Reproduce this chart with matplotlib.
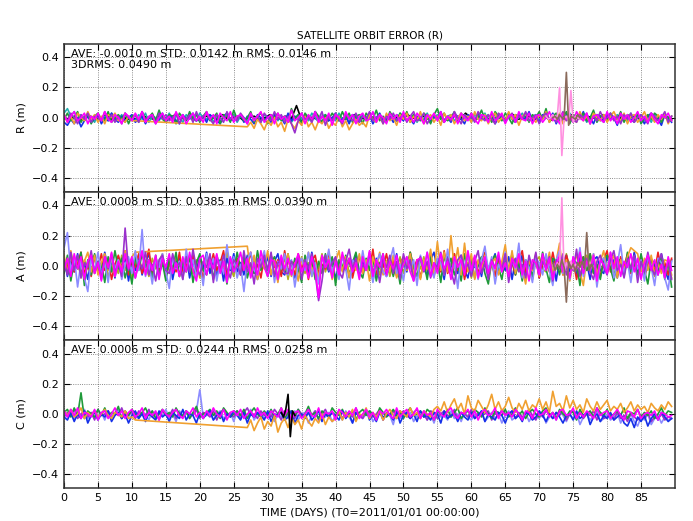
import numpy as np
import matplotlib
matplotlib.use("Agg")
import matplotlib.pyplot as plt

plt.rcParams.update({"font.size": 8})

# orbit errors, in cm, one value about every half day over 0-89.5 days
r_black = "0 -1 1 -2 0 1 -1 0 2 -1 0 1 -1 0 -2 1 0 -1 1 0 -1 2 0 -1 1 -2 0 1 0 -1 2 -1 0 1 -2 0 1 -1 0 2 -1 0 1 -1 8 -2 1 0 -1 1 -2 0 1 -1 0 2 -1 0 1 -1 0 -2 1 0 -1 2 0 -1 1 -1 0 1 -2 0 1 -1 3 0 -1 1 0 -2 1 -1 0 2 -1 0 1 -1 0 1 -2 0 1 -1 2 0 -1 1 0 -1 2 -1 0 1 -2 0 1 -1 0 2 -1 0 1 -1"
r_cyan = ("3 6 1 4 -1 2 -2 3 0 -3 2 -1 1 -2 3 0 -1 2 -3 1 0 -2 2 -1 3 -3 1 0 -2 2 -1 3 -2 1 0 -3 2 -1 1 -2 "
          "3 0 -1 2 -3 1 -2 0 3 -1 2 -3 1 0 -2 2 -1 1 -3 2 0 -1 3 -2 1 -1 2 -3 0 2 -1 1 -2 3 0 -3 1 2 -1 0 "
          "-2 3 -1 1 -3 2 0 -1 2 -2 1 3 -1 0 -3 2 -1 1 -2 3 1 -2 0 2 -3 1 -1 3 -2 0 2 -1 -3 1 2 -2 0 3 -1 1 "
          "-3 2 0 -1 3 -2 1 -1 2 0 -3 1 2 -2 0 3 -1 -2 1 2 -1 0 3 -2 1 -3 2 0 -1 3 -2 1 -1 2 -3 0 1 2 -2 -1 "
          "3 -1 0 2 -3 1 -2 3 -1 0 2 -2 1 -3 2 0 -1 3 -2 1")
r_blue = ("-3 -5 -1 -4 0 -6 -2 1 -3 -1 2 -4 0 -2 3 -1 -3 1 -2 0 2 -3 -1 1 -4 0 2 -2 -1 3 -3 0 1 -2 -4 2 -1 0 3 -2 "
          "-1 1 -3 2 0 -2 -4 1 3 -1 -2 0 2 -3 1 -1 -4 2 0 -2 1 -3 2 -1 0 -4 3 -2 1 -1 -3 2 0 -2 4 -1 -3 1 -2 0 "
          "3 -2 -1 1 -4 2 0 -3 1 -1 2 -4 0 3 -2 -1 1 -3 2 0 -2 3 -1 -4 1 0 -2 2 -3 1 -1 4 -2 0 -3 2 1 -1 -4 2 "
          "0 -2 3 -1 1 -3 2 -4 0 1 -2 3 -1 -3 2 0 -1 4 -2 1 -3 2 0 -1 3 -4 1 -2 2 0 -3 1 -1 4 -2 0 -4 2 1 -3 "
          "2 -1 0 -5 3 -2 1 -1 -3 2 0 -4 1 3 -2 -1 -5 2 0 -3")
r_green = ("-1 3 -2 0 4 -3 1 2 -4 1 3 -1 -2 4 -3 0 2 -1 3 -4 1 2 -3 4 -1 0 3 -2 5 -1 -3 2 1 -4 3 0 -2 4 -1 2 "
           "-3 1 4 -2 0 3 -4 2 1 -3 5 -1 2 -2 0 4 -3 1 3 -1 -4 2 0 3 -2 1 -3 6 -1 2 -4 3 0 -2 4 1 -3 2 -1 3 "
           "0 -2 4 -1 3 -3 1 2 -4 3 0 -1 5 -2 1 -3 4 0 -2 3 -1 4 -3 2 0 -2 3 1 -4 2 6 -1 3 -2 0 4 -3 1 2 -1 "
           "3 -2 0 5 -1 2 -3 4 1 -2 3 0 -4 2 1 -1 3 -3 2 0 4 -1 6 -3 1 3 -2 0 4 -4 2 1 -1 3 -2 0 5 -3 1 2 "
           "-2 3 0 -1 4 -3 2 1 -2 3 -4 0 2 -1 3 1 -3 2 0 -2")
r_purple = ("1 -2 3 0 -4 2 -1 3 -3 1 0 -2 4 -1 2 -3 1 -4 3 0 -1 2 -3 4 -2 0 1 -4 3 -1 2 -2 0 3 -4 1 -1 2 -3 4 "
            "-2 1 3 -1 -4 2 0 -3 4 -1 1 -2 3 0 -4 2 -1 1 -3 3 0 -2 4 -1 2 -3 1 -4 -10 -2 3 -1 0 -3 2 -1 4 -5 1 -2 "
            "3 -1 -4 2 0 -2 3 -3 1 -1 4 -2 0 2 -4 1 -1 3 -2 0 2 -3 1 4 -2 -1 3 -4 0 2 -1 3 -3 1 -2 4 0 -4 2 -1 "
            "1 -3 4 0 -2 2 -1 -4 3 1 -2 0 3 -3 1 -1 4 -2 0 2 -4 1 3 -1 2 -3 0 4 -2 1 -1 -3 2 0 3 -4 1 -2 4 -1 "
            "0 3 -2 1 -4 2 -1 3 -3 0 2 -1 -4 3 1 -2 0 4 -3 1")
r_orange_a = "2 -3 1 -4 3 0 -2 4 -1 2 -3 1 -4 2 0 3 -2 -1 -3 1 -2 -2"
r_orange_b = ("-6 -3 -7 -1 -4 -8 -2 -5 0 -6 -3 -9 -1 -4 -7 -2 -5 1 -6 -3 -8 -2 -4 0 -7 -3 -5 1 -6 -2 -8 -4 -1 -5 -3 -6 "
              "2 -1 -3 1 -4 3 -2 0 -5 2 -1 3 -3 1 -2 4 -4 0 2 -3 1 -5 3 -1 2 -4 0 3 -2 1 -3 4 -1 -2 2 -4 1 3 -3 0 "
              "-2 4 -1 2 -5 1 3 -2 0 -3 2 -1 4 -3 1 -2 3 -4 0 2 -1 -3 4 -2 1 -4 3 0 -2 2 -3 1 4 -1 -2 3 -4 1 2 -3 "
              "0 4 -2 1 -3 2 -1 3 -4 1")
r_magenta = ("2 -3 1 4 -2 0 3 -4 1 -1 3 -2 4 -1 -3 2 0 -4 3 1 -2 3 -1 4 -3 1 2 -4 0 3 -2 1 -3 4 -1 2 -4 0 3 -2 "
             "1 -3 4 -1 2 -4 3 0 -2 4 -3 1 2 -1 -4 3 -2 1 4 -3 0 2 -4 3 -1 1 -3 5 -2 0 3 -4 2 -1 4 -3 1 -2 3 -5 "
             "2 0 -3 4 -1 2 -4 1 3 -2 -1 4 -3 2 0 -4 3 -1 2 -3 4 -2 1 -3 3 0 -4 2 -1 3 -2 4 -3 1 -1 2 -4 3 0 -2 "
             "3 -1 -4 2 1 -3 4 -2 0 3 -4 1 2 -3 4 -1 -2 3 -4 1 2 -3 0 4 -2 1 -4 3 -1 2 -3 4 0 -2 3 -4 1 2 -1 -3 "
             "4 -2 1 -4 3 -1 2 -3 0 4 -2 1 -3 3 -1 -4 2 0 3 -2")
r_pink = "1 -1 0 2 -1 1 20 -25 0 1 -2 18 -3 1 0 -1"      # days 71-76
r_brown = "0 1 -1 2 0 -1 30 -5 1 0 -1 2 0"              # days 72-76

a_olive = ("-4 3 -7 5 1 -6 4 -2 8 -5 3 -1 6 -8 2 1 -5 7 -3 4 -9 2 6 -4 1 -7 5 -2 3 8 -6 1 -4 5 -7 3 -1 6 -5 4 "
           "-8 2 7 -3 5 -6 3 -4 9 -1 -7 4 2 -5 6 -3 1 -8 5 3 -4 7 -6 2 -1 5 -9 3 1 -3 6 -5 2 -7 4 -2 8 -4 3 -6 "
           "5 -1 -3 4 -8 2 6 -5 3 -2 7 -4 1 -6 5 3 -7 2 -3 6 -5 4 1 -8 3 -2 6 -4 2 -7 5 3 -6 1 -3 8 -5 2 -1 7 "
           "-8 3 1 -4 6 -2 4 -7 3 -1 5 -6 2 4 -3 7 -5 1 -9 3 6 -2 -4 5 -7 3 1 -5 8 -3 2 -6 4 -1 7 -4 3 -8 2 5 "
           "-3 6 -7 1 4 -5 3 -2 8 -6 2 -4 5 -1 -7 3 6 -4 2 -8")
a_blue = ("5 -7 3 -4 8 -6 2 -9 4 7 -3 -5 9 -2 3 -8 6 -1 5 -10 4 -3 7 -6 2 8 -5 3 -7 4 -2 6 -9 2 5 -3 7 -8 3 -4 "
          "6 -2 9 -5 3 -7 4 -10 5 -3 8 -4 2 -6 7 -3 5 -9 4 -1 6 -7 3 8 -4 -6 5 2 -8 7 -3 4 -5 9 -2 -7 6 3 -4 5 "
          "-9 2 7 -3 4 -6 8 -5 3 -2 6 -10 5 -1 4 -7 3 -2 8 -6 2 -4 7 -8 3 5 -2 -6 4 9 -3 1 -9 6 -2 4 -5 7 -3 -8 "
          "5 -1 3 -7 6 -4 2 8 -5 1 -3 6 -9 4 -2 7 -6 3 -1 5 -8 2 6 -3 4 -10 5 -2 7 -4 3 -6 8 -1 2 -9 4 6 -3 -5 "
          "7 -2 4 -8 3 -1 6 -5 9 -4 2 -7 5 -3 1 -6 8 -2 -9 4")
a_red = ("3 -1 7 -4 2 9 -5 1 -7 6 -2 8 -3 5 -9 1 7 -2 10 -6 4 -1 8 -5 2 11 -7 3 -3 6 -8 2 5 -4 9 -6 1 -2 7 -5 "
         "3 -9 6 -1 8 -3 2 10 -7 4 -2 5 -6 3 -1 9 -5 1 -8 6 -3 7 -1 4 -7 10 -4 2 -6 8 -2 5 -9 3 7 -5 1 -2 9 -6 "
         "4 -4 7 -1 5 -8 2 6 -5 3 -3 11 -6 2 -1 8 -4 5 -7 1 6 -3 9 -2 4 -8 3 -1 7 -6 2 -4 10 -5 1 8 -3 5 -9 2 "
         "-2 6 -5 3 9 -4 1 -7 5 -1 8 -3 2 -6 4 10 -5 3 -2 7 -8 1 5 -4 9 -2 3 -6 7 -1 4 -9 2 6 -3 8 -5 1 -7 4 "
         "10 -4 2 -6 6 -1 8 -5 3 -2 7 -8 1 5 -4 9 -3 2 -6 5")
a_green = ("-5 7 -10 3 -2 9 -13 4 -6 8 -3 2 -11 6 -4 10 -2 5 -8 1 -12 6 -3 8 -1 4 -9 7 -5 2 -10 5 -2 9 -7 3 -4 6 -11 2 "
           "8 -3 -6 4 -9 7 -1 3 -12 5 -4 9 -2 6 -8 1 -5 10 -3 4 -7 2 6 -10 3 -4 8 -6 5 -2 -11 7 -1 4 -9 3 -5 8 -2 6 "
           "-13 4 -1 7 -6 2 9 -4 -8 5 -3 6 -10 1 8 -5 3 -7 2 -12 5 -3 9 -1 -7 4 2 -9 6 -4 3 -11 7 -2 5 -6 1 -10 8 -3 "
           "4 -8 2 6 -5 -12 3 7 -1 -9 5 -3 8 -6 2 -10 4 1 -7 6 -4 9 -2 -11 5 3 -6 7 -1 -8 4 2 -13 6 -3 8 -5 1 -9 4 "
           "7 -2 -10 5 3 -7 9 -4 1 -6 8 -3 -12 4 2 -5 6 -9 3 -14")
a_orange_a = "7 -5 10 -2 6 -8 3 9 -4 7 -6 2 8 -3 5 -7 4 -2 10 -1 6 9"
a_orange_b = ("13 -5 7 -9 3 -2 10 -6 4 -11 6 -3 8 -7 2 -10 5 -3 9 -4 2 -8 7 -1 5 -9 3 10 -4 6 -7 2 -3 8 -5 4 -10 6 -2 9 "
              "-6 3 -4 7 -8 1 5 -3 8 -6 2 -9 4 -2 11 -5 16 -3 9 -4 20 -2 12 -6 15 -4 8 -9 4 -3 7 -8 2 5 -6 3 14 -4 10 -5 "
              "6 -2 -12 4 -3 8 -7 5 -2 9 -5 3 15 -6 4 -10 2 7 -4 -13 5 -2 8 -6 3 10 -5 2 7 -8 4 -3 6 12 10 8 -4 5 -3 7 "
              "-6 2 -5 4 3 -6")
a_lightblue = ("12 22 -4 6 -14 3 -8 -17 5 -3 9 -6 2 -11 7 -2 4 -9 1 6 -5 10 -3 24 -7 2 -12 5 -1 8 -4 -15 6 -2 3 -9 11 -3 4 -7 "
               "2 -13 8 -1 5 -10 3 -5 14 -2 6 -8 1 -17 4 9 -3 -6 2 10 -4 7 -11 3 -2 8 -6 4 -14 1 5 -3 9 -7 2 -12 6 -1 11 -5 "
               "3 -9 7 -2 -16 4 1 -6 10 -3 5 -11 2 8 -4 -7 3 12 -5 1 -10 6 -2 4 -13 7 -3 9 -1 -8 5 2 -6 11 -4 3 -15 6 -1 8 "
               "-5 2 -9 4 13 -3 6 -12 1 -4 9 -7 3 -2 15 -8 4 -1 -11 5 2 -6 8 -3 -13 4 10 -5 1 -9 6 -2 12 -7 3 -4 8 -14 2 5 "
               "-3 9 -8 1 14 -5 3 -11 6 -2 4 -10 7 -1 -13 5 2 -8 -16 3")
a_purple = ("4 -6 9 -3 7 -8 2 -1 10 -5 3 -9 6 -2 8 -4 1 -7 25 -3 5 -8 3 -2 9 -6 1 -10 4 7 -3 -5 8 -1 2 -9 6 -4 11 -2 "
            "-6 3 -1 8 -11 5 -3 7 -2 -8 4 1 -6 10 -4 2 -12 5 -1 7 -3 9 -7 2 4 -5 -5 3 -1 6 -9 4 -2 8 -5 -23 -10 7 -3 2 "
            "6 -4 -8 3 11 -2 5 -7 1 -3 9 -6 2 -11 4 -1 7 -5 3 -9 8 -2 4 -10 1 6 -4 3 -8 2 -1 9 -6 5 -3 -12 4 7 -2 1 "
            "-7 3 10 -5 2 -9 4 -1 6 -3 8 -11 2 5 -4 1 -8 7 -2 9 -5 3 -1 6 -10 4 -2 8 -6 1 -3 11 -7 2 5 -4 -9 3 7 -1 "
            "-6 4 10 -3 1 -8 5 -2 7 -11 3 -4 9 -1 -6 2 8 -5 3 -9")
a_magenta = ("-3 5 -7 8 -2 6 -9 3 7 -5 2 -10 6 -1 9 -7 3 -4 8 -2 6 -8 1 10 -6 4 -3 7 -9 5 -1 8 -5 2 -7 6 -4 9 -3 -10 "
             "5 7 -6 4 -2 8 -5 3 -11 6 -4 1 9 -3 5 -8 2 -6 10 -1 -7 4 3 -9 7 -2 5 -6 1 8 -4 2 -8 6 -3 -21 7 -1 4 -8 "
             "3 -6 9 -2 5 -4 2 -9 6 -3 10 -7 4 -1 8 -6 3 -2 7 -5 1 6 -4 -10 4 5 -3 9 -7 2 -5 8 -2 3 -9 6 -1 4 -6 10 "
             "-3 7 -8 1 6 -5 3 -2 9 -4 2 -7 5 -1 8 -6 3 -10 4 2 -6 8 -3 5 -9 1 7 -4 2 -8 6 -2 9 -5 3 -3 7 -10 4 1 "
             "-5 9 -2 6 -7 3 -1 8 -4 5 -9 2 7 -3 4 -6 1 -8 6 -3")
a_pink = "1 -3 2 -1 45 -4 2 -1 3 -2 1 0 -1"               # days 72-76
a_brown = "2 -3 1 -2 4 -1 -24 3 -2 1 -4 2 -1 3 -2 22 -3 1 -2"  # days 72-78

c_lightblue = ("0 -2 2 -4 1 -1 3 -3 0 2 -2 1 -4 2 -1 0 3 -3 1 -2 2 -1 -3 1 0 -4 2 -2 1 -1 3 -3 0 -5 2 -1 1 -3 0 2 "
               "16 -2 -1 1 -4 0 2 -3 -1 1 -5 2 0 -2 -1 3 -4 0 1 -3 -1 2 -5 0 -2 1 -3 -1 2 -4 0 1 -6 -1 2 -3 0 -2 1 -5 "
               "-1 0 -4 2 -2 -6 1 -1 -3 0 2 -5 -2 1 -4 0 -1 -7 2 -3 0 -2 1 -5 -1 -3 2 -4 0 -6 1 -2 -1 -4 2 -3 0 -5 1 -2 "
               "-4 0 -1 2 -5 -2 1 -3 0 -6 -1 2 -4 -2 0 -3 1 -5 -1 0 -3 1 -6 -2 0 -4 2 -1 -5 0 -3 1 -7 -2 0 -4 -1 2 -5 -3 "
               "0 -4 -2 1 -6 -1 -3 0 -5 -8 -2 -4 0 -7 -3 -1 -6 -2 -4 -3")
c_purple = ("-2 1 -1 3 -3 0 2 -2 1 -4 3 -1 0 2 -3 1 -1 4 -2 0 1 -3 2 0 -1 3 -2 1 -4 2 0 -1 3 -3 1 -2 2 0 -1 3 "
            "-3 1 0 -2 2 -4 1 3 -1 0 -2 2 -3 1 4 -1 0 -3 2 -1 1 -2 3 0 -4 2 -1 1 -3 3 0 -2 1 -1 2 -4 0 3 -2 1 "
            "-1 2 -3 1 0 -2 4 -1 -3 2 1 -2 0 3 -4 1 -1 2 -3 0 2 -1 -3 1 3 -2 0 -4 2 1 -3 0 2 -1 -2 3 -3 1 0 -2 "
            "3 -3 1 -1 0 2 -4 1 -2 3 0 -1 2 -3 1 -2 0 3 -1 -4 1 -2 2 0 -3 1 -1 3 -4 0 2 -2 1 -3 0 -1 2 -4 1 -3 "
            "-2 0 -4 1 -3 -1 -5 0 -2 -4 -1 -3 1 -5 -2 -3 0 -4 -2 -3")
c_green = ("1 3 -2 4 -1 14 -3 2 0 -2 3 -1 4 -2 1 0 5 -3 2 -1 3 0 -2 1 4 -1 2 -3 0 3 -1 1 -2 4 0 -1 2 -3 1 5 "
           "-2 0 1 3 -1 2 -3 4 1 -2 0 2 -1 3 -3 1 4 0 -2 2 -1 3 -2 0 4 -3 1 2 -1 3 -2 0 5 -1 1 -3 2 0 -2 4 "
           "1 -1 3 -2 0 2 -4 1 3 -1 2 0 -3 4 1 -2 0 3 -1 2 -3 1 4 -1 0 2 -2 3 1 -4 2 0 -1 3 -2 1 4 -3 0 2 "
           "-1 3 1 -2 4 0 -3 2 1 -1 3 -2 0 4 -1 2 -3 1 3 0 -2 2 4 -1 1 -3 3 0 -2 2 1 -4 3 -1 0 2 -2 4 1 -1 "
           "3 -2 0 2 -1 4 -3 1 0 3 -2 1 -1 2 -3 0 4 -1 2 1")
c_blue = ("-2 -4 1 -5 0 -3 2 -6 -1 1 -4 0 -2 2 -5 -1 1 -3 0 -6 -1 2 -3 0 -5 1 -2 -4 2 -2 0 -5 1 -1 -3 3 -4 0 -1 -6 "
          "1 -3 0 2 -4 -1 1 -5 0 -2 2 -1 -4 1 -6 0 -2 1 -1 -4 2 -5 0 -1 1 -4 -2 2 -6 -1 0 -3 1 -4 -1 2 -5 0 -2 1 "
          "-1 -4 2 -3 0 -6 1 -2 -1 3 -4 0 -5 1 -2 -1 0 -4 2 -6 -1 1 -3 0 -5 2 -2 -1 -4 1 0 -6 2 -3 -1 0 -5 1 -2 -4 "
          "1 -3 -1 2 -5 0 -2 -4 1 -1 -6 0 2 -3 -1 -5 1 0 -4 -2 2 -1 -5 0 -3 1 -2 -6 -1 0 -4 2 -3 -1 1 -7 -2 0 -5 -1 "
          "-3 1 -4 -2 0 -6 -8 -3 -9 -2 -5 -1 -8 -3 0 -4 1 -2 -5 -3")
c_orange_a = "2 -1 3 -2 0 4 -3 1 -1 2 -2 0 3 -1 -3 1 0 -2 2 -3 -2 -4"
c_orange_b = ("-9 -4 -11 -6 -2 -10 -5 -8 -1 -12 -6 -3 -9 -2 -7 -4 -10 -1 -5 -8 -3 -6 0 -7 -2 -5 -3 2 -4 1 -2 3 -5 0 -1 4 "
              "-3 1 -2 2 -4 0 3 -1 -3 2 0 -2 4 -1 1 -3 2 0 -2 3 5 2 8 1 6 10 3 7 0 12 4 2 9 5 1 6 13 3 8 2 5 11 4 1 "
              "7 3 9 2 6 4 10 3 8 1 15 5 7 2 12 4 9 3 6 1 10 5 2 8 3 6 9 2 5 3 7 1 4 8 2 6 3 5 1 7 4 2 6 3 8 5")
c_magenta = ("2 -2 3 -1 4 -3 1 0 -2 3 -4 1 2 -3 0 4 -1 2 -3 1 3 -2 0 4 -3 1 -1 2 -4 3 0 -2 1 3 -1 -3 2 0 4 -2 "
             "1 -3 2 -1 4 0 -2 3 -4 1 2 -1 3 -3 0 2 -2 4 -1 1 -3 2 0 -2 4 -1 3 -4 1 2 -3 0 3 -1 -2 4 -3 1 0 2 "
             "-4 3 1 -2 2 -1 4 -3 0 3 -2 1 -4 2 0 3 -1 -3 4 -2 1 3 -2 0 4 -3 2 -1 1 -4 3 0 -2 2 4 -1 -3 1 0 3 "
             "-2 2 -4 1 3 -1 0 4 -3 2 -1 1 -2 3 0 -4 2 1 -3 4 -1 0 3 -2 1 -4 2 3 -1 0 4 -3 1 -2 2 0 -3 4 -1 1 "
             "2 -3 0 3 -1 -4 2 1 -2 3 -3 0 1 -1 2 -4 1 0 -2 -1")
c_black = "1 -2 3 13 -15 2 -1"                              # days 32-34

stats = [
    "AVE: -0.0010 m STD: 0.0142 m RMS: 0.0146 m\n3DRMS: 0.0490 m",
    "AVE: 0.0008 m STD: 0.0385 m RMS: 0.0390 m",
    "AVE: 0.0006 m STD: 0.0244 m RMS: 0.0258 m",
]
ylabels = ["R (m)", "A (m)", "C (m)"]

ORANGE = "#f0a030"
MAGENTA = "#ff00ff"
GREEN = "#1f9a3a"
BLUE = "#1530e8"
PURPLE = "#9a30cc"
CYAN = "#20b0b0"
LIGHTBLUE = "#8c8cff"
RED = "#ee2020"
OLIVE = "#b0b020"
PINK = "#ff90e0"
BROWN = "#8a6a5a"


def cm(s):
    return np.array(s.split(), float) / 100.0


def full(s):
    v = cm(s)
    return np.linspace(0, 89.5, len(v)), v


def gapped(sa, sb):
    va, vb = cm(sa), cm(sb)
    t = np.concatenate([np.linspace(0, 10.5, len(va)), np.linspace(27, 89.5, len(vb))])
    return t, np.concatenate([va, vb])


def span(s, t0, t1):
    v = cm(s)
    return np.linspace(t0, t1, len(v)), v


panels = [
    [(full(r_black), "k"), (full(r_cyan), CYAN), (full(r_blue), BLUE), (full(r_green), GREEN),
     (gapped(r_orange_a, r_orange_b), ORANGE), (full(r_purple), PURPLE), (full(r_magenta), MAGENTA),
     (span(r_pink, 71, 76), PINK), (span(r_brown, 72, 76), BROWN)],
    [(full(a_olive), OLIVE), (full(a_blue), BLUE), (full(a_red), RED), (full(a_green), GREEN),
     (gapped(a_orange_a, a_orange_b), ORANGE), (full(a_lightblue), LIGHTBLUE), (full(a_purple), PURPLE),
     (full(a_magenta), MAGENTA), (span(a_pink, 72, 76), PINK), (span(a_brown, 72, 78), BROWN)],
    [(full(c_lightblue), LIGHTBLUE), (full(c_purple), PURPLE), (full(c_green), GREEN), (full(c_blue), BLUE),
     (gapped(c_orange_a, c_orange_b), ORANGE), (full(c_magenta), MAGENTA), (span(c_black, 32, 34), "k")],
]

fig = plt.figure(figsize=(6.93, 5.21), dpi=100)
left, width, h = 0.0924, 0.8816, 0.2843
bottoms = [0.0633 + 2 * h, 0.0633 + h, 0.0633]
axes = []
for i, series in enumerate(panels):
    ax = fig.add_axes([left, bottoms[i], width, h])
    for (t, v), c in series:
        ax.plot(t, v, color=c, lw=1.2)
    ax.set_xlim(0, 90)
    ax.set_ylim(-0.49, 0.49)
    ax.set_xticks(np.arange(0, 90, 5))
    ax.set_yticks([-0.4, -0.2, 0.0, 0.2, 0.4])
    ax.grid(True, color="k", ls=":", lw=0.6, alpha=0.6)
    ax.tick_params(direction="in", top=True, right=True, length=4, labelsize=8)
    for sp in ax.spines.values():
        sp.set_linewidth(1.1)
        sp.set_color("#333333")
    ax.set_ylabel(ylabels[i], fontsize=8)
    ax.text(0.012, 0.965, stats[i], transform=ax.transAxes, va="top", ha="left",
            fontsize=8, linespacing=1.15)
    if i < 2:
        ax.tick_params(labelbottom=False)
    axes.append(ax)

axes[0].set_title("SATELLITE ORBIT ERROR (R)", fontsize=7.5, pad=4)
axes[2].set_xlabel("TIME (DAYS) (T0=2011/01/01 00:00:00)", fontsize=8, labelpad=3)

fig.savefig("out.png", dpi=100)
